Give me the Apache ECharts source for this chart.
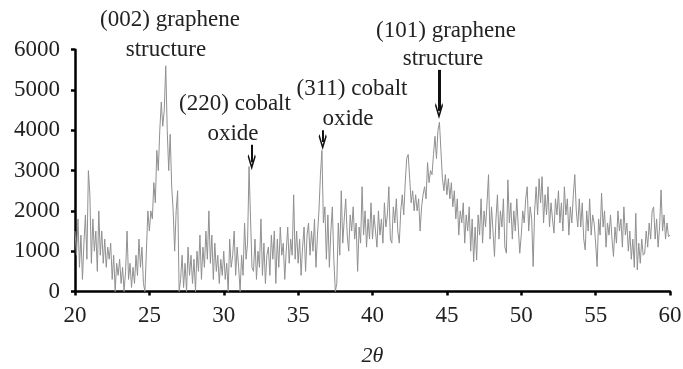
<!DOCTYPE html>
<html>
<head>
<meta charset="utf-8">
<script src="https://cdn.jsdelivr.net/npm/echarts@6/dist/echarts.min.js"></script>
<style>
  html, body { margin: 0; padding: 0; background: #fff; }
  #container { width: 683px; height: 369px; }
</style>
</head>
<body>
<div id="container"></div>
<script>
// XRD scan, 2theta from 20 to 60 in 0.1 steps
var scanStart = 20, scanStep = 0.1;
var intensity = [
  1500, 900, 1800, 600, 1400, 300, 1200, 1900, 800, 3000,
  2400, 700, 1800, 1000, 1500, 500, 2000, 900, 1500, 700,
  1300, 600, 1100, 800, 1200, 300, 900, 0, 700, 400,
  800, 200, 600, 0, 500, 1500, 300, 700, 100, 600,
  200, 900, 400, 1300, 600, 1100, 200, 0, 1000, 2000,
  1500, 2000, 1800, 2700, 2200, 3500, 3000, 4000, 4700, 4100,
  4500, 5600, 4000, 3000, 3900, 2600, 2000, 1000, 2000, 2500,
  0, 300, 900, 100, 700, 0, 1100, 400, 900, 200,
  800, 0, 1000, 500, 1400, 300, 1100, 600, 1500, 800,
  2000, 700, 1400, 300, 1200, 500, 900, 200, 800, 400,
  1000, 300, 700, 0, 1300, 600, 900, 1500, 400, 1100,
  600, 0, 900, 400, 1700, 800, 1200, 3100, 1800, 600,
  500, 1300, 300, 1000, 600, 1800, 400, 1200, 200, 900,
  1100, 400, 1400, 800, 1500, 200, 1300, 600, 1600, 900,
  1200, 300, 1000, 1600, 700, 1300, 900, 2400, 800, 1500,
  700, 1300, 400, 1100, 1600, 500, 1400, 1700, 900, 1500,
  1000, 1800, 600, 1400, 2000, 2900, 3500, 1700, 2100, 800,
  1900, 600, 1500, 2100, 800, 0, 200, 1700, 900, 2500,
  1200, 1800, 2300, 1400, 1000, 1900, 1500, 2100, 1300, 1700,
  500, 1600, 1200, 2600, 1400, 2000, 1100, 1800, 1300, 2200,
  1300, 1900, 1500, 1100, 2000, 1400, 1800, 1200, 2200, 1600,
  1900, 2600, 1300, 1200, 2100, 1700, 2300, 1500, 1200, 2000,
  2400, 1900, 2700, 3300, 3400, 2800, 2200, 2500, 2000, 2400,
  2000, 2300, 1500, 2100, 2400, 2600, 2300, 3200, 2700, 3000,
  2900, 3400, 3850, 3300, 4000, 4200, 3500, 2800, 2500, 2900,
  2400, 2800, 2300, 2700, 2100, 2500, 1800, 2300, 1400, 2000,
  1700, 2200, 1200, 1900, 1500, 2100, 1000, 1800, 740, 1600,
  780, 1900, 1400, 2300, 1200, 2000, 1600, 2200, 2900, 1300,
  2100, 1500, 870, 1800, 2400, 1300, 2000, 1600, 2300, 1100,
  950, 2770, 1700, 2200, 1300, 2000, 1500, 2300, 1600, 950,
  1400, 2000, 1700, 2300, 2600, 1500, 2100, 1800, 620, 2000,
  2600, 1900, 2800, 2200, 2850, 1700, 2400, 1900, 2600, 1600,
  2200, 1800, 1450, 2300, 1900, 2500, 1700, 2200, 1500, 2600,
  1900, 2300, 1400, 2100, 1700, 2400, 2900, 2000, 1600, 2300,
  1600, 2200, 1300, 1030, 2000, 1500, 2300, 1400, 1900, 1700,
  1200, 620, 1800, 1400, 2440, 1600, 2000, 1100, 1700, 1400,
  1900, 1300, 870, 1600, 1200, 2000, 1500, 1800, 1100, 2100,
  1400, 1700, 1000, 1500, 800, 1300, 600, 1940, 540, 1200,
  700, 1300, 900, 950, 1500, 1100, 1700, 1300, 2000, 2100,
  1300, 1800, 1100, 1600, 2520, 1500, 1900, 1300, 1700, 1360,
  1400
];
var xTicks = [20, 25, 30, 35, 40, 45, 50, 55, 60];
var yTicks = [0, 1000, 2000, 3000, 4000, 5000, 6000];

// annotated peaks: [2theta, arrow top, arrow tip]
var peakArrows = [
  [31.88, 3640, 3210],
  [36.65, 4000, 3710],
  [44.47, 5500, 4480]
];

var points = intensity.map(function (v, i) {
  return [+(scanStart + i * scanStep).toFixed(1), v];
});

var serif = '"Liberation Serif", "DejaVu Serif", serif';
var txt = '#222';
var fs = 23;
var chevron = 'path://M0,10 L10,0 L20,10 L18,12 L10,4 L2,12 Z';

var chart = echarts.init(document.getElementById('container'));
chart.setOption({
  animation: false,
  grid: { left: 75, right: 13, top: 49.7, bottom: 77.5, outerBoundsMode: 'none', containLabel: false },
  xAxis: {
    type: 'value',
    min: xTicks[0], max: xTicks[xTicks.length - 1], interval: 5,
    name: '2θ', nameLocation: 'middle', nameGap: 54,
    nameTextStyle: { fontFamily: serif, fontStyle: 'italic', fontSize: 22, color: txt },
    axisLine: { lineStyle: { color: '#000', width: 2.5 } },
    axisTick: { length: 4, lineStyle: { color: '#000', width: 2.5 } },
    axisLabel: { fontFamily: serif, fontSize: fs, color: txt, margin: 13 },
    splitLine: { show: false }
  },
  yAxis: {
    type: 'value',
    min: yTicks[0], max: yTicks[yTicks.length - 1], interval: 1000,
    axisLine: { show: true, lineStyle: { color: '#000', width: 2.5 } },
    axisTick: { show: true, length: 4, lineStyle: { color: '#000', width: 2.5 } },
    axisLabel: { fontFamily: serif, fontSize: fs, color: txt, margin: 15,
      formatter: function (v) { return String(v); } },
    splitLine: { show: false }
  },
  series: [{
    type: 'line',
    data: points,
    symbol: 'none',
    lineStyle: { color: '#909090', width: 1 },
    markLine: {
      silent: true,
      symbol: ['none', chevron],
      label: { show: false },
      data: peakArrows.map(function (p, i) {
        var big = i === 2;
        return [
          { coord: [p[0], p[1]], symbolSize: big ? [16, 11] : [14, 10],
            lineStyle: { color: '#111', width: big ? 3 : 2, type: 'solid' } },
          { coord: [p[0], p[2]] }
        ];
      })
    }
  }]
});

// peak labels (two lines each)
var labels = [
  { x: 170, y: 20, text: '(002) graphene' },
  { x: 166, y: 50, text: 'structure' },
  { x: 235, y: 104, text: '(220) cobalt' },
  { x: 233, y: 134, text: 'oxide' },
  { x: 352, y: 89, text: '(311) cobalt' },
  { x: 348, y: 119, text: 'oxide' },
  { x: 446, y: 31, text: '(101) graphene' },
  { x: 443, y: 59, text: 'structure' }
];
chart.setOption({
  graphic: labels.map(function (l) {
    return {
      type: 'text', x: l.x, y: l.y, silent: true,
      style: { text: l.text, font: fs + 'px ' + serif, fill: txt, align: 'center', verticalAlign: 'middle' }
    };
  })
});
</script>
</body>
</html>
